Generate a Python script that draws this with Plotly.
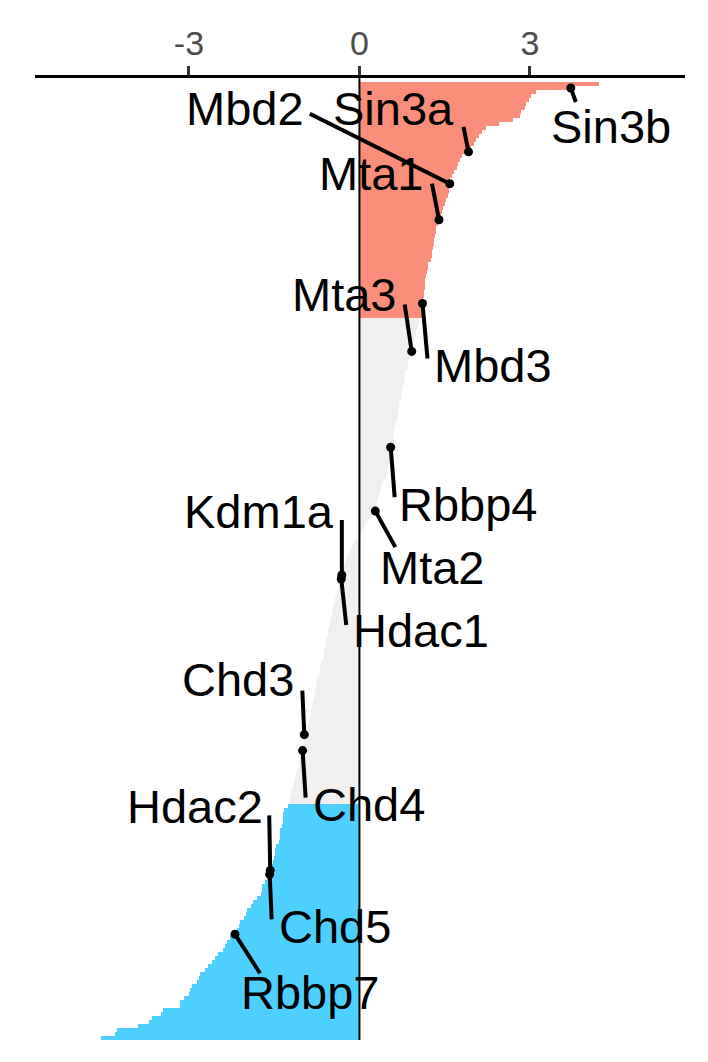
import plotly.graph_objects as go

# ranked scores, top to bottom
scores = [
    4.22, 3.72, 3.10, 3.02, 2.98, 2.93, 2.91, 2.85, 2.82, 2.70,
    2.45, 2.22, 2.15, 2.10, 2.05, 2.01, 1.96, 1.92, 1.81, 1.77,
    1.73, 1.71, 1.66, 1.63, 1.60, 1.59, 1.57, 1.57, 1.56, 1.52,
    1.50, 1.47, 1.46, 1.44, 1.40, 1.38, 1.34, 1.34, 1.33, 1.32,
    1.31, 1.30, 1.27, 1.27, 1.26, 1.21, 1.20, 1.19, 1.17, 1.16,
    1.16, 1.15, 1.13, 1.13, 1.12, 1.11, 1.11, 1.11, 1.10, 1.05,
    1.04, 1.03, 1.00, 0.99, 0.97, 0.94, 0.93, 0.92, 0.90, 0.87,
    0.86, 0.85, 0.81, 0.81, 0.80, 0.79, 0.76, 0.75, 0.74, 0.73,
    0.69, 0.69, 0.68, 0.67, 0.66, 0.65, 0.63, 0.61, 0.60, 0.59,
    0.57, 0.55, 0.55, 0.54, 0.53, 0.52, 0.51, 0.49, 0.47, 0.45,
    0.40, 0.38, 0.37, 0.35, 0.33, 0.31, 0.30, 0.28, 0.22, 0.17,
    0.12, 0.09, 0.06, 0.03, -0.03, -0.10, -0.13, -0.17, -0.21, -0.23,
    -0.25, -0.27, -0.29, -0.31, -0.32, -0.35, -0.37, -0.39, -0.41, -0.43,
    -0.45, -0.46, -0.47, -0.49, -0.50, -0.51, -0.53, -0.55, -0.56, -0.58,
    -0.59, -0.60, -0.62, -0.63, -0.65, -0.67, -0.69, -0.70, -0.72, -0.74,
    -0.75, -0.77, -0.78, -0.79, -0.80, -0.82, -0.83, -0.85, -0.86, -0.88,
    -0.89, -0.91, -0.93, -0.97, -0.98, -0.98, -0.99, -1.00, -1.03, -1.05,
    -1.07, -1.08, -1.10, -1.12, -1.14, -1.16, -1.17, -1.19, -1.20, -1.22,
    -1.23, -1.26, -1.33, -1.34, -1.34, -1.35, -1.36, -1.39, -1.39, -1.40,
    -1.41, -1.47, -1.48, -1.49, -1.50, -1.52, -1.55, -1.57, -1.58, -1.63,
    -1.66, -1.71, -1.72, -1.74, -1.80, -1.87, -1.90, -1.98, -2.00, -2.03,
    -2.10, -2.12, -2.15, -2.19, -2.28, -2.33, -2.36, -2.40, -2.49, -2.55,
    -2.60, -2.66, -2.72, -2.80, -2.82, -2.86, -2.95, -2.98, -3.00, -3.08,
    -3.16, -3.16, -3.46, -3.50, -3.65, -3.70, -3.90, -4.27, -4.30, -4.55,
]
ranks = list(range(len(scores)))

# labelled genes and their rank in the list
genes = ['Sin3b', 'Sin3a', 'Mbd2', 'Mta1', 'Mbd3', 'Mta3', 'Rbbp4', 'Mta2',
         'Kdm1a', 'Hdac1', 'Chd3', 'Chd4', 'Hdac2', 'Chd5', 'Rbbp7']
gene_rank = [1, 17, 25, 34, 55, 67, 91, 107, 123, 124, 163, 167, 197, 198, 213]

# label placement (pixels from the point, + = right / down)
text_dx = [40, -75, -205, -67, 70, -67, 78, 57, -83, 80, -66, 66, -75, 65, 75]
text_dy = [42, -40, -72, -43, 65, -54, 60, 59, -60, 55, -52, 57, -61, 55, 61]
seg_dx = [5, -5, -140, -7, 5, -7, 4, 20, 0, 5, -2, 3, -1, 2, 25]
seg_dy = [14, -25, -70, -36, 55, -47, 50, 36, -55, 46, -44, 47, -55, 45, 39]

UP = '#FA8E7B'
MID = '#F1F0EE'
DOWN = '#4DD0FF'
colors = [UP if v >= 1.1 else (DOWN if v <= -1.25 else MID) for v in scores]

fig = go.Figure()
fig.add_trace(go.Bar(
    x=scores, y=ranks, orientation='h', width=1,
    marker=dict(color=colors, line=dict(width=0)),
    hoverinfo='skip', showlegend=False,
))

gx = [scores[i] for i in gene_rank]
fig.add_trace(go.Scatter(
    x=gx, y=gene_rank, mode='markers',
    marker=dict(color='black', size=9),
    showlegend=False, hoverinfo='skip',
))

# zero line on top of the bars
fig.add_shape(type='line', xref='x', yref='paper', x0=0, x1=0, y0=0, y1=1,
              line=dict(color='black', width=2), layer='above')

for i, g in enumerate(genes):
    fig.add_shape(type='line', xref='x', yref='y',
                  xsizemode='pixel', ysizemode='pixel',
                  xanchor=gx[i], yanchor=gene_rank[i],
                  x0=0, y0=0, x1=seg_dx[i], y1=-seg_dy[i],
                  line=dict(color='black', width=4), layer='above')
    fig.add_annotation(x=gx[i], y=gene_rank[i], xref='x', yref='y',
                       text=g, showarrow=False,
                       xshift=text_dx[i], yshift=-text_dy[i] + 3,
                       font=dict(family='Liberation Sans, Arial', size=47, color='black'))

# page body has an 8px margin, so the figure is a bit smaller than the window
fig.update_layout(
    width=700, height=1054,
    margin=dict(l=27, r=23, t=70, b=22),
    plot_bgcolor='white', paper_bgcolor='white',
    bargap=0,
    xaxis=dict(side='top', range=[-5.71, 5.73], tickvals=[-3, 0, 3],
               ticktext=['-3', '0', '3'],
               ticks='outside', ticklen=9, tickwidth=3, tickcolor='#333333',
               ticklabelstandoff=-3,
               showline=True, linecolor='black', linewidth=3,
               showgrid=False, zeroline=False,
               tickfont=dict(family='Liberation Sans, Arial', size=34, color='#4d4d4d')),
    yaxis=dict(range=[len(scores) - 0.5, -1.5], visible=False),
)

fig.write_html("out.html")
